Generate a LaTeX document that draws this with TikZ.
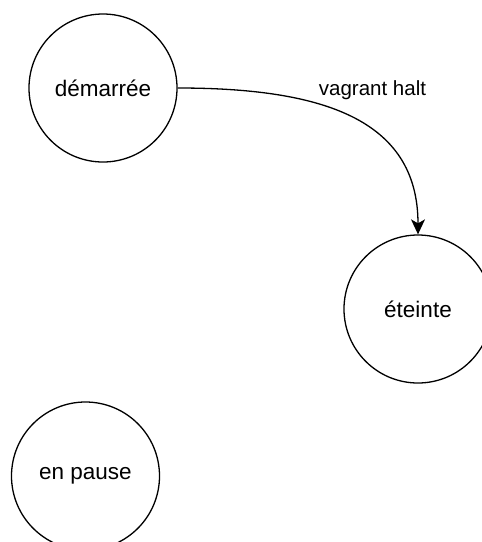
\documentclass[tikz,border=0pt]{standalone}
\usepackage{fontspec}
\setmainfont{Liberation Sans}
\usetikzlibrary{arrows.meta}
\begin{document}
\begin{tikzpicture}[x=1pt,y=-1pt,
  state/.style={draw=black,line width=1.3pt,circle,minimum size=148pt,inner sep=0pt,font=\fontsize{22.5}{26}\selectfont},
  trans/.style={draw=black,line width=1.3pt,-{Stealth[length=15pt,width=14pt,inset=4pt]}},
  lbl/.style={font=\fontsize{20.5}{24}\selectfont}]
\useasboundingbox (0,0) rectangle (482,542);
\node[state] (dem) at (103,88) {démarrée};
\node[state] (ete) at (418,309) {éteinte};
\node[state] (pau) at (85.5,476) {en pause};
\draw[trans] (dem.east) .. controls (320,88) and (418,118) .. (ete.north);
\node[lbl] (lab) at (372.5,90) {vagrant halt};
\end{tikzpicture}
\end{document}
